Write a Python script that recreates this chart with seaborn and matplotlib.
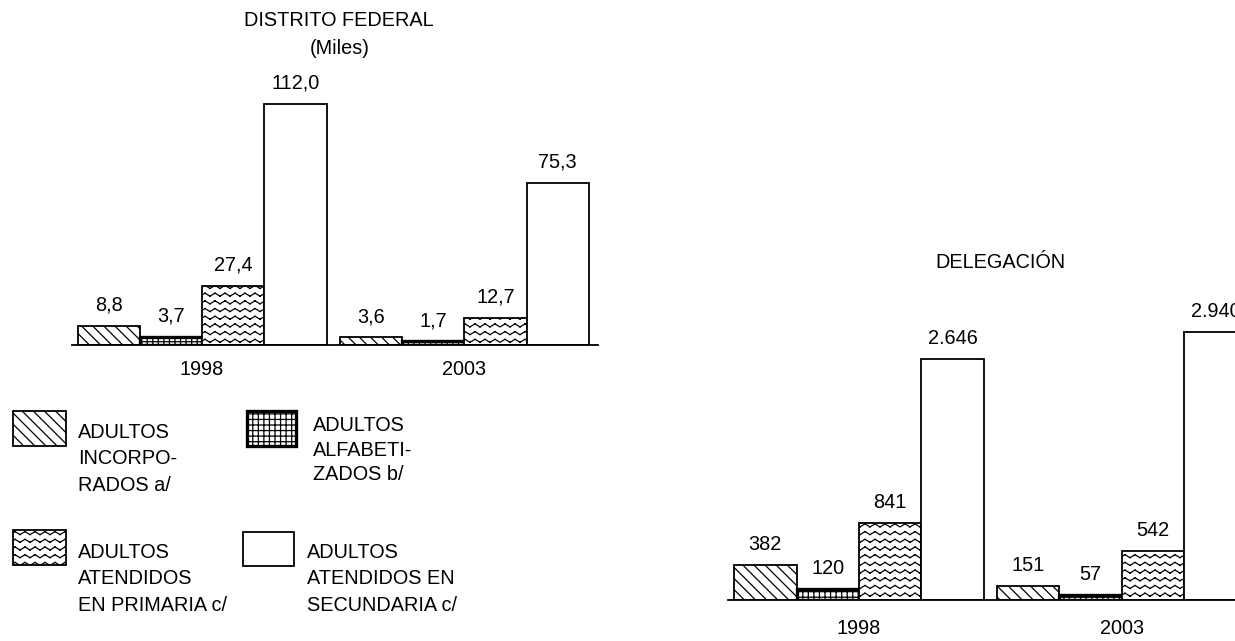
import warnings
import numpy as np
import pandas as pd
import matplotlib
matplotlib.use('Agg')
import matplotlib.pyplot as plt
import matplotlib.hatch as mhatch
from matplotlib.path import Path
from matplotlib.patches import Rectangle
import seaborn as sns

warnings.filterwarnings('ignore')

# ==================================================================================
# Data
years = ['1998', '2003']
series = ['ADULTOS INCORPORADOS a/', 'ADULTOS ALFABETIZADOS b/',
          'ADULTOS ATENDIDOS EN PRIMARIA c/', 'ADULTOS ATENDIDOS EN SECUNDARIA c/']
df_values = {'1998': [8.8, 3.7, 27.4, 112.0],
             '2003': [3.6, 1.7, 12.7, 75.3]}
deleg_values = {'1998': [382, 120, 841, 2646],
                '2003': [151, 57, 542, 2940]}
legend_labels = ['ADULTOS\nINCORPO-\nRADOS a/', 'ADULTOS\nALFABETI-\nZADOS b/',
                 'ADULTOS\nATENDIDOS\nEN PRIMARIA c/', 'ADULTOS\nATENDIDOS EN\nSECUNDARIA c/']
hatches = ['\\\\\\', '+++', 'z', '']
edge_widths = [1.3, 2.4, 1.3, 1.3]


# zigzag hatch, matplotlib has no wavy pattern
# (each stroke is its own segment, agg fills hatch paths too)
class ZigzagHatch(mhatch.HatchPatternBase):
    def __init__(self, hatch, density):
        self.num_rows = hatch.count('z') * 13
        self.num_segs = 2 * 10
        self.num_vertices = self.num_rows * self.num_segs * 2

    def set_vertices_and_codes(self, vertices, codes):
        rows = (np.arange(self.num_rows) + 0.5) / self.num_rows
        xs = np.linspace(0, 1, self.num_segs + 1)
        ys = np.tile([0.0, 0.03], self.num_segs)[:self.num_segs + 1]
        k = 0
        for r in rows:
            for j in range(self.num_segs):
                vertices[k] = (xs[j], r + ys[j])
                vertices[k + 1] = (xs[j + 1], r + ys[j + 1])
                codes[k] = Path.MOVETO
                codes[k + 1] = Path.LINETO
                k += 2


mhatch._hatch_types.append(ZigzagHatch)


def to_long(values):
    rows = []
    for y in years:
        for s, v in zip(series, values[y]):
            rows.append({'anio': y, 'serie': s, 'valor': v})
    return pd.DataFrame(rows)


def fmt_miles(v):
    return f'{v:.1f}'.replace('.', ',')


def fmt_int(v):
    return f'{v:,.0f}'.replace(',', '.')


sns.set_style('white')
plt.rcParams['font.family'] = ['Liberation Sans', 'DejaVu Sans']
plt.rcParams['hatch.linewidth'] = 0.9
plt.rcParams['text.color'] = 'black'
plt.rcParams['xtick.color'] = 'black'
plt.rcParams['xtick.labelcolor'] = 'black'
FS = 14.3

W, H = 1235, 641
fig = plt.figure(figsize=(W / 100, H / 100), dpi=100)


def px_axes(left, right, bottom, top):
    return fig.add_axes([left / W, 1 - bottom / H, (right - left) / W, (bottom - top) / H])


def draw_panel(ax, data, fmt, ylim, xlim, pad):
    sns.barplot(data=to_long(data), x='anio', y='valor', hue='serie', hue_order=series,
                palette=['white'] * 4, width=0.95, gap=0, ax=ax, legend=False,
                edgecolor='black', linewidth=1.3, saturation=1)
    for cont, h, lw in zip(ax.containers, hatches, edge_widths):
        for bar in cont:
            bar.set_hatch(h)
            bar.set_linewidth(lw)
            bar.set_edgecolor('black')
        ax.bar_label(cont, labels=[fmt(b.get_height()) for b in cont], padding=8,
                     fontsize=FS, color='black', clip_on=True)
    ax.set_ylim(*ylim)
    ax.set_xlim(*xlim)
    ax.set_xlabel('')
    ax.set_ylabel('')
    ax.set_yticks([])
    ax.tick_params(axis='x', length=0, pad=pad, labelsize=FS)
    for side in ['top', 'left', 'right']:
        ax.spines[side].set_visible(False)
    ax.spines['bottom'].set_color('black')
    ax.spines['bottom'].set_linewidth(1.3)
    ax.patch.set_alpha(0)


ax1 = px_axes(72, 598, 345, 60)
draw_panel(ax1, df_values, fmt_miles, (0, 132.4), (-0.496, 1.51), 11)

ax2 = px_axes(728, 1235, 600, 300)
draw_panel(ax2, deleg_values, fmt_int, (0, 3294), (-0.498, 1.43), 14)

fig.text(339 / W, 1 - 21 / H, 'DISTRITO FEDERAL', ha='center', va='center', fontsize=FS)
fig.text(340 / W, 1 - 48 / H, '(Miles)', ha='center', va='center', fontsize=FS)
fig.text(1000 / W, 1 - 262 / H, 'DELEGACIÓN', ha='center', va='center', fontsize=FS)

# legend drawn by hand in pixel positions
boxes = [(13, 411, 53, 35), (247, 411, 49, 35), (13, 530, 53, 35), (243, 532, 51, 34)]
text_pos = [(78, 423), (313, 416), (78, 543), (307, 543)]
spacing = [1.5, 1.38, 1.5, 1.5]
for (x, y, w, h), (tx, ty), hp, lw, lab, ls in zip(boxes, text_pos, hatches, edge_widths,
                                                  legend_labels, spacing):
    fig.add_artist(Rectangle((x / W, 1 - (y + h) / H), w / W, h / H, transform=fig.transFigure,
                             facecolor='white', edgecolor='black', hatch=hp, linewidth=lw))
    fig.text(tx / W, 1 - ty / H, lab, ha='left', va='top', fontsize=FS, linespacing=ls)

fig.savefig('out.png', dpi=100)
